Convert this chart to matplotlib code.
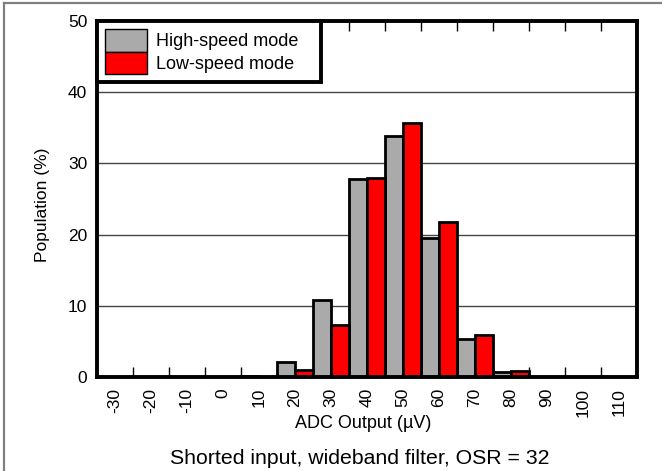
import matplotlib
matplotlib.use('Agg')
import matplotlib.pyplot as plt
from matplotlib.patches import Patch
from matplotlib.lines import Line2D
import numpy as np

plt.rcParams['font.family'] = ['Liberation Sans', 'DejaVu Sans']

# bins of ADC output (uV)
bins = ['-30', '-20', '-10', '0', '10', '20', '30', '40', '50', '60', '70', '80', '90', '100', '110']
# population (%) per bin
high_speed = [0, 0, 0, 0.05, 0.2, 2.1, 10.8, 27.8, 33.8, 19.5, 5.4, 0.7, 0.05, 0, 0]
low_speed = [0, 0, 0, 0.05, 0.05, 1.0, 7.3, 27.9, 35.7, 21.8, 5.9, 0.8, 0, 0, 0]

W, H = 662, 471
fig = plt.figure(figsize=(W / 100, H / 100), dpi=100)
ax = fig.add_axes([97 / W, 1 - 377 / H, 540 / W, 356 / H])

# border on top and left of the figure
fig.add_artist(Line2D([3.5 / W, 1], [1 - 2.5 / H, 1 - 2.5 / H], transform=fig.transFigure,
                      color='#808080', lw=1.6))
fig.add_artist(Line2D([3.5 / W, 3.5 / W], [0, 1 - 2.5 / H], transform=fig.transFigure,
                      color='#808080', lw=1.6))

pos = np.arange(len(bins))
ax.bar(pos - 0.5, high_speed, width=0.5, align='edge', color='#aaaaaa',
       edgecolor='black', linewidth=2, zorder=3)
ax.bar(pos, low_speed, width=0.5, align='edge', color='#ff0000',
       edgecolor='black', linewidth=2, zorder=3)

ax.set_xlim(-0.5, len(bins) - 0.5)
ax.set_ylim(0, 50)

ax.set_xticks(pos)
ax.set_xticklabels(bins, rotation=90, fontsize=12.5)
ax.set_xticks(pos[:-1] + 0.5, minor=True)
ax.tick_params(axis='x', which='major', length=0, pad=8)
ax.tick_params(axis='x', which='minor', direction='in', length=7.5, width=1,
               top=True, bottom=True)
ax.set_yticks([0, 10, 20, 30, 40, 50])
ax.tick_params(axis='y', length=0, labelsize=12.5, pad=7)

for y in [10, 20, 30, 40]:
    ax.axhline(y, color='#444444', lw=1, zorder=1)

for s in ax.spines.values():
    s.set_linewidth(2.8)
    s.set_zorder(5)

fig.text(43 / W, 1 - 205 / H, 'Population (%)', rotation=90, ha='center',
         va='center', fontsize=12.5)
ax.set_xlabel('ADC Output (µV)', fontsize=13)
ax.xaxis.set_label_coords(0.493, -0.108)
fig.text(360 / W, 1 - 464 / H, 'Shorted input, wideband filter, OSR = 32', ha='center',
         va='baseline', fontsize=15.3)

handles = [Patch(facecolor='#aaaaaa', edgecolor='black', lw=1),
           Patch(facecolor='#ff0000', edgecolor='black', lw=1)]
leg = ax.legend(handles, ['High-speed mode', 'Low-speed mode'], loc='upper left',
                bbox_to_anchor=(0, 0, 0.415, 1), mode='expand',
                fontsize=13, fancybox=False, framealpha=1, edgecolor='black',
                borderaxespad=0, labelspacing=0.0, handlelength=2.3,
                handleheight=1.55, handletextpad=0.5, borderpad=0.45)
leg.get_frame().set_linewidth(2.8)
leg.set_zorder(6)

fig.savefig('out.png', dpi=100)
